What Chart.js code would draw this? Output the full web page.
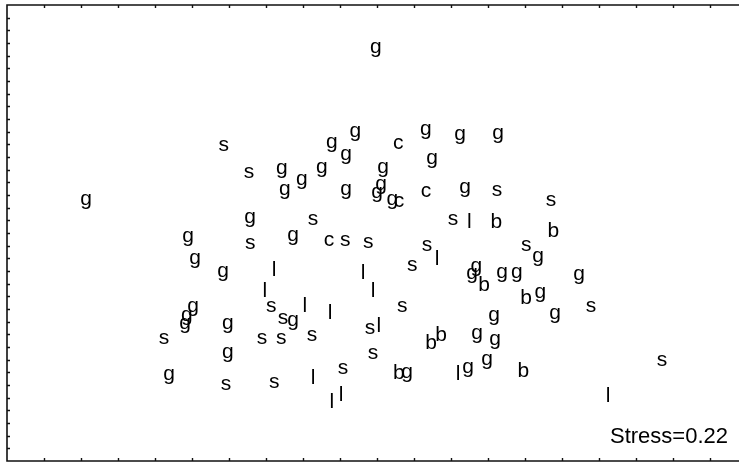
<!DOCTYPE html>
<html>
<head>
<meta charset="utf-8">
<script src="https://cdn.jsdelivr.net/npm/chart.js@4.4.1/dist/chart.umd.min.js"></script>
<style>
  html, body { margin: 0; padding: 0; background: #fff; }
  canvas { display: block; }
</style>
</head>
<body>
<canvas id="chart" width="739" height="463"></canvas>
<script>
// ordination scores, one pair of arrays per group letter
const gX = [9.97, 9.41, 8.78, 9.16, 11.32, 12.24, 13.27, 11.49, 7.43, 7.97, 8.51, 10.16, 2.14, 7.51, 9.16,
  10.11, 10.00, 10.41, 12.38, 6.57, 4.89, 7.73, 14.35, 5.08, 5.84, 12.68, 12.57, 13.38, 13.78, 15.46,
  14.41, 5.03, 4.86, 4.81, 7.73, 13.16, 14.81, 5.97, 12.70, 13.19, 5.97, 12.97, 12.46, 10.81, 4.38];
const gY = [32.61, 26.05, 25.11, 24.16, 26.21, 25.74, 25.89, 23.92, 23.13, 22.26, 23.21, 23.21, 20.68, 21.40, 21.47,
  21.79, 21.16, 20.61, 21.63, 19.26, 17.76, 17.84, 16.11, 15.95, 15.00, 15.32, 14.84, 14.92, 14.92, 14.76,
  13.34, 12.16, 11.45, 10.89, 11.13, 11.45, 11.61, 10.89, 10.03, 9.63, 8.53, 8.05, 7.42, 6.95, 6.79];

const sX = [5.86, 6.54, 13.24, 14.70, 8.27, 12.05, 6.57, 9.14, 9.76, 11.35, 14.03, 10.95, 7.14, 10.68, 15.78,
  7.46, 9.81, 4.24, 6.89, 7.41, 8.24, 9.89, 17.70, 9.08, 5.92, 7.22];
const sY = [25.03, 22.97, 21.55, 20.76, 19.26, 19.26, 17.29, 17.53, 17.37, 17.21, 17.21, 15.63, 12.39, 12.32, 12.32,
  11.37, 10.58, 9.79, 9.79, 9.79, 10.03, 8.61, 8.13, 7.50, 6.16, 6.32];

const cX = [10.57, 10.59, 11.32, 8.70];
const cY = [25.26, 20.68, 21.40, 17.53];

const lX = [12.49, 11.62, 7.22, 9.62, 6.97, 9.89, 8.05, 8.73, 10.05, 12.19, 8.27, 9.03, 8.78, 16.24];
const lY = [19.11, 16.26, 15.39, 15.08, 13.66, 13.66, 12.55, 12.00, 10.97, 7.18, 6.79, 5.45, 4.97, 5.37];

const bX = [13.22, 14.76, 12.89, 14.03, 11.73, 11.46, 13.95, 10.59];
const bY = [19.11, 18.47, 14.21, 13.11, 10.26, 9.63, 7.42, 7.26];

const groups = ['g', 's', 'c', 'l', 'b'];
const groupX = [gX, sX, cX, lX, bX];
const groupY = [gY, sY, cY, lY, bY];

const stressText = 'Stress=0.22';

const xMax = 19.78;
const yMax = 36;

const FONT_SIZE = 21;
// shift from glyph centre to baseline, per letter shape
const baseShift = { g: 5.5, s: 7.5, c: 7.5, l: 9.5, b: 9.5 };

const datasets = groups.map((g, i) => ({
  label: g,
  data: groupX[i].map((x, j) => ({ x: x, y: groupY[i][j] })),
  pointRadius: 0,
  pointHoverRadius: 0,
}));

const letterPlugin = {
  id: 'letters',
  beforeDraw(chart) {
    const { ctx, chartArea } = chart;
    const xs = chart.scales.x;
    const ys = chart.scales.y;
    ctx.save();
    ctx.strokeStyle = '#111';
    ctx.lineWidth = 1.6;
    ctx.beginPath();
    ctx.moveTo(chartArea.right, chartArea.top);
    ctx.lineTo(chartArea.left, chartArea.top);
    ctx.lineTo(chartArea.left, chartArea.bottom);
    ctx.lineTo(chartArea.right, chartArea.bottom);
    ctx.stroke();
    // inward ticks
    ctx.lineWidth = 1.4;
    ctx.beginPath();
    for (let v = 1; v < xMax; v++) {
      const px = Math.round(xs.getPixelForValue(v)) + 0.5;
      ctx.moveTo(px, chartArea.top);
      ctx.lineTo(px, chartArea.top + 3);
      ctx.moveTo(px, chartArea.bottom);
      ctx.lineTo(px, chartArea.bottom - 3);
    }
    for (let v = 1; v < yMax; v++) {
      const py = Math.round(ys.getPixelForValue(v)) + 0.5;
      ctx.moveTo(chartArea.left, py);
      ctx.lineTo(chartArea.left + 3, py);
    }
    ctx.stroke();
    ctx.restore();
  },
  afterDatasetsDraw(chart) {
    const { ctx, chartArea } = chart;
    ctx.save();
    ctx.fillStyle = '#000';
    ctx.font = FONT_SIZE + 'px "Liberation Sans", Arial, sans-serif';
    ctx.textAlign = 'center';
    ctx.textBaseline = 'alphabetic';
    chart.data.datasets.forEach((ds, i) => {
      const meta = chart.getDatasetMeta(i);
      meta.data.forEach(pt => {
        ctx.fillText(ds.label, pt.x, pt.y + baseShift[ds.label]);
      });
    });
    ctx.font = '22px "Liberation Sans", Arial, sans-serif';
    ctx.textAlign = 'right';
    ctx.fillText(stressText, chartArea.right - 11, chartArea.bottom - 18);
    ctx.restore();
  }
};

new Chart(document.getElementById('chart').getContext('2d'), {
  type: 'scatter',
  data: { datasets: datasets },
  options: {
    responsive: false,
    animation: false,
    layout: { padding: { left: 7, top: 5, right: 0, bottom: 2 } },
    scales: {
      x: { type: 'linear', min: 0, max: xMax, display: false },
      y: { type: 'linear', min: 0, max: yMax, display: false }
    },
    plugins: { legend: { display: false }, tooltip: { enabled: false } }
  },
  plugins: [letterPlugin]
});
</script>
</body>
</html>
